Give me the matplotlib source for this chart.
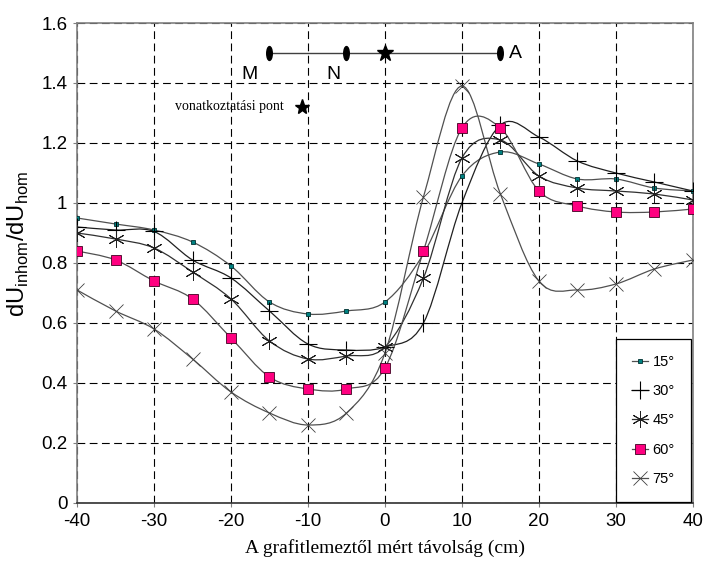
import matplotlib
matplotlib.use('Agg')
from matplotlib import pyplot as plt
from matplotlib.path import Path
from matplotlib.patches import PathPatch
from matplotlib.lines import Line2D
import numpy as np

# distance from the graphite plate (cm)
dist = [-40, -35, -30, -25, -20, -15, -10, -5, 0, 5, 10, 15, 20, 25, 30, 35, 40]

s15 = [0.95, 0.93, 0.91, 0.87, 0.79, 0.67, 0.63, 0.64, 0.67, 0.83, 1.09, 1.17, 1.13, 1.08, 1.08, 1.05, 1.04]
s30 = [0.92, 0.91, 0.905, 0.81, 0.75, 0.64, 0.53, 0.51, 0.52, 0.60, 1.00, 1.26, 1.22, 1.14, 1.10, 1.07, 1.04]
s45 = [0.90, 0.88, 0.85, 0.77, 0.68, 0.54, 0.48, 0.49, 0.52, 0.75, 1.15, 1.21, 1.09, 1.05, 1.04, 1.03, 1.01]
s60 = [0.84, 0.81, 0.74, 0.68, 0.55, 0.42, 0.38, 0.38, 0.45, 0.84, 1.25, 1.25, 1.04, 0.99, 0.97, 0.97, 0.98]
s75 = [0.71, 0.64, 0.58, 0.48, 0.37, 0.30, 0.26, 0.30, 0.50, 1.02, 1.39, 1.03, 0.74, 0.71, 0.73, 0.78, 0.81]

labels = ['15°', '30°', '45°', '60°', '75°']

plt.rcParams['font.family'] = 'Liberation Sans'
plt.rcParams['mathtext.fontset'] = 'custom'
plt.rcParams['mathtext.rm'] = 'Liberation Sans'
plt.rcParams['axes.unicode_minus'] = False

fig = plt.figure(figsize=(7.07, 5.61), dpi=100)
ax = fig.add_axes([0.109, 0.1034, 0.871, 0.8556])


def smooth_path(x, y):
    # Excel-style smoothed line: cubic Bezier through every point
    p = np.column_stack([x, y]).astype(float)
    ext = np.vstack([p[0], p, p[-1]])
    verts = [p[0]]
    codes = [Path.MOVETO]
    for i in range(len(p) - 1):
        a, b, c, d = ext[i], ext[i + 1], ext[i + 2], ext[i + 3]
        verts += [b + (c - a) / 6, c - (d - b) / 6, c]
        codes += [Path.CURVE4] * 3
    return Path(verts, codes)


asterisk = (6, 2, 0)
styles = [
    dict(marker='s', ms=3.5, mfc='#008080', mec='#003030', mew=0.6, lc='#505050'),
    dict(marker='+', ms=13, mfc='k', mec='k', mew=0.8, lc='#202020'),
    dict(marker=asterisk, ms=12, mfc='k', mec='#202020', mew=0.7, lc='#303030'),
    dict(marker='s', ms=7, mfc='#ff0080', mec='#400020', mew=0.6, lc='#505050'),
    dict(marker='x', ms=10, mfc='k', mec='#404040', mew=0.6, lc='#505050'),
]

handles = []
for y, st, lab in zip([s15, s30, s45, s60, s75], styles, labels):
    ax.add_patch(PathPatch(smooth_path(dist, y), fill=False, edgecolor=st['lc'], lw=0.9, zorder=3))
    ax.plot(dist, y, linestyle='none', marker=st['marker'], markersize=st['ms'],
            markerfacecolor=st['mfc'], markeredgecolor=st['mec'], markeredgewidth=st['mew'], zorder=4)
    handles.append(Line2D([], [], color=st['lc'], lw=0.9, marker=st['marker'], markersize=st['ms'],
                          markerfacecolor=st['mfc'], markeredgecolor=st['mec'], markeredgewidth=st['mew']))

# electrode sketch at the top
circ = Path.unit_circle()
ellipse = Path(circ.vertices * [0.4, 1.0], circ.codes)
ax.plot([-15, 15], [1.5, 1.5], color='#404040', lw=1, zorder=5)
ax.plot([-15, -5, 15], [1.5, 1.5, 1.5], linestyle='none', marker=ellipse, markersize=10,
        color='k', zorder=6)
ax.plot([0], [1.5], linestyle='none', marker='*', markersize=12, color='k', zorder=6)
ax.text(-17.6, 1.43, 'M', fontsize=14, ha='center', va='center')
ax.text(-6.7, 1.43, 'N', fontsize=14, ha='center', va='center')
ax.text(16.9, 1.5, 'A', fontsize=14, ha='center', va='center')
ax.plot([-10.8], [1.32], linestyle='none', marker='*', markersize=11, color='k', zorder=6)
ax.text(-13.1, 1.32, 'vonatkoztatási pont', fontsize=10, family='Liberation Serif',
        ha='right', va='center')

ax.set_xlim(-40, 40)
ax.set_ylim(0, 1.6)
ax.set_xticks(range(-40, 41, 10))
ax.set_yticks(np.arange(0, 1.61, 0.2))
ax.set_yticklabels(['0', '0.2', '0.4', '0.6', '0.8', '1', '1.2', '1.4', '1.6'])
ax.tick_params(labelsize=13.5, length=3, width=0.8, color='#808080', pad=4)
ax.grid(True, color='k', linestyle=(0, (7, 4)), lw=0.8)
for s in ax.spines.values():
    s.set_color('#808080')
    s.set_linewidth(1.2)
ax.spines['bottom'].set_color('#303030')

ax.set_xlabel('A grafitlemeztől mért távolság (cm)', family='Liberation Serif', fontsize=14)
ax.xaxis.set_label_coords(0.5, -0.075)
ax.set_ylabel(r'dU$_{\mathregular{inhom}}$/dU$_{\mathregular{hom}}$', fontsize=17)
ax.yaxis.set_label_coords(-0.075, 0.54)

leg = ax.legend(handles, labels, loc='lower right', bbox_to_anchor=(0.997, 0.002), borderaxespad=0,
                fontsize=10.5, handlelength=1.1, labelspacing=1.05, borderpad=1.1,
                handletextpad=0.3, fancybox=False, edgecolor='k', framealpha=1)
leg.get_frame().set_linewidth(0.9)

fig.savefig('out.png', dpi=100)
